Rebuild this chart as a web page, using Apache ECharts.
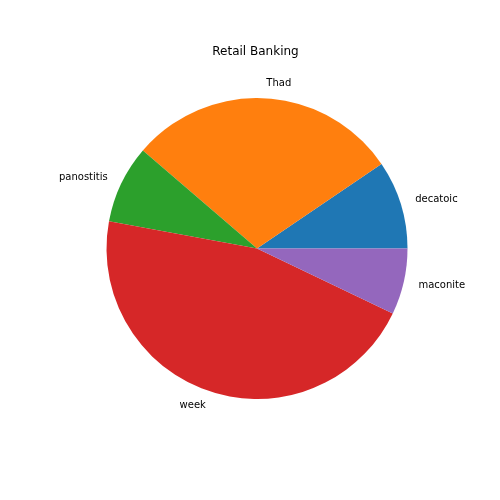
<!DOCTYPE html>
<html><head><meta charset="utf-8">
<script src="https://cdn.jsdelivr.net/npm/echarts@6/dist/echarts.min.js"></script>
<style>html,body{margin:0;padding:0;background:#fff}#c{width:500px;height:500px}</style>
</head><body><div id="c"></div>
<script>
const categories = ['decatoic', 'Thad', 'panostitis', 'week', 'maconite'];
const values = [9.5, 29.2, 8.4, 45.8, 7.1];
const colors = ['#1f77b4', '#ff7f0e', '#2ca02c', '#d62728', '#9467bd'];
const chart = echarts.init(document.getElementById('c'), null, {renderer: 'canvas'});
chart.setOption({
  animation: false,
  backgroundColor: '#ffffff',
  title: {
    text: 'Retail Banking', left: 250.5, top: 41, textAlign: 'center',
    textStyle: {fontFamily: 'DejaVu Sans', fontSize: 12, fontWeight: 'normal', color: '#000'}
  },
  series: [{
    type: 'pie',
    center: [257, 248.5],
    radius: 150.5,
    startAngle: 0,
    clockwise: false,
    avoidLabelOverlap: false,
    minShowLabelAngle: 0,
    itemStyle: {borderWidth: 0},
    emphasis: {disabled: true},
    label: {
      show: true, position: 'outside', distanceToLabelLine: 0,
      fontFamily: 'DejaVu Sans', fontSize: 10, color: '#000'
    },
    labelLine: {show: false, length: 15, length2: 0},
    data: categories.map((c, i) => ({name: c, value: values[i], itemStyle: {color: colors[i]}}))
  }]
});
</script></body></html>
